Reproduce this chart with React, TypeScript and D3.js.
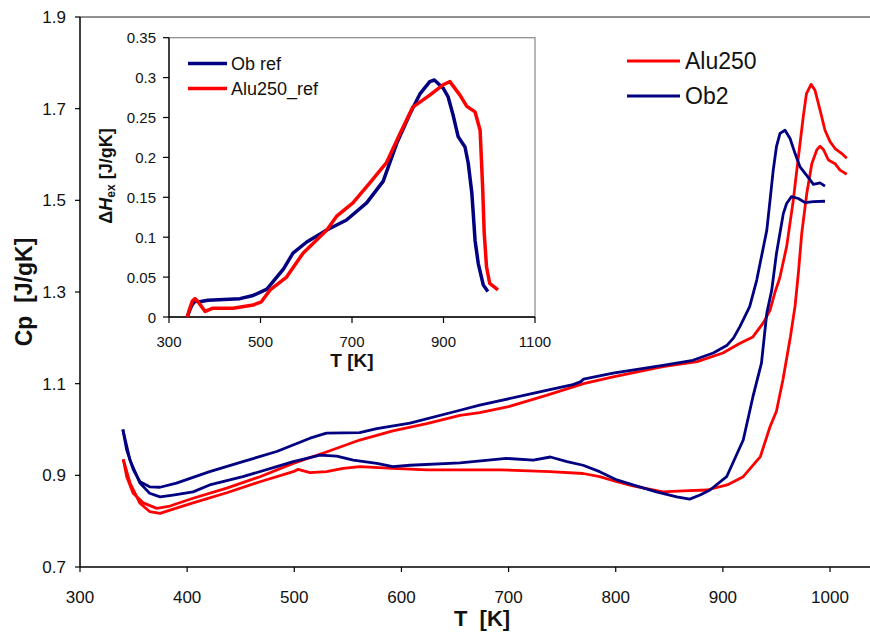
import React from 'react';
import * as d3 from 'd3';

type Pt = [number, number];

const mainXTicks = [300, 400, 500, 600, 700, 800, 900, 1000];
const mainYTicks = [0.7, 0.9, 1.1, 1.3, 1.5, 1.7, 1.9];
const insetXTicks = [300, 500, 700, 900, 1100];
const insetYTicks = [0, 0.05, 0.1, 0.15, 0.2, 0.25, 0.3, 0.35];

const mainLegend = ['Alu250', 'Ob2'];
const insetLegend = ['Ob ref', 'Alu250_ref'];

// Alu250 run with higher baseline (big peak)
const alu250A: Pt[] = [
  [340.4, 0.935], [343.6, 0.897], [349.6, 0.861], [359, 0.84], [371.6, 0.828], [384, 0.833],
  [405.5, 0.85], [437, 0.872], [468, 0.897], [499, 0.926], [530, 0.951], [561, 0.977],
  [592, 0.997], [623.6, 1.013], [654.7, 1.031], [673, 1.037], [700, 1.05], [736, 1.075],
  [770, 1.1], [797.5, 1.115], [844, 1.137], [876, 1.148], [900, 1.167], [916, 1.188],
  [928, 1.202], [937.5, 1.232], [944, 1.26], [948.7, 1.3], [953, 1.33], [959.5, 1.399],
  [965.7, 1.5], [969, 1.566], [972, 1.624], [975, 1.682], [978, 1.733], [982.3, 1.753],
  [986, 1.74], [990.7, 1.697], [995.3, 1.653], [1000, 1.628], [1004.7, 1.613], [1011, 1.602],
  [1015.6, 1.592],
];

// Alu250 run with lower baseline
const alu250B: Pt[] = [
  [340.4, 0.935], [346.7, 0.883], [356, 0.839], [365, 0.821], [374.7, 0.817], [384, 0.824],
  [405.5, 0.84], [437, 0.862], [468, 0.886], [499, 0.908], [503.5, 0.913], [514.7, 0.906],
  [530, 0.908], [545.6, 0.915], [561, 0.919], [592, 0.915], [623.6, 0.912], [654.7, 0.912],
  [692, 0.912], [738.7, 0.908], [769.5, 0.904], [785, 0.897], [801, 0.886], [816, 0.877],
  [844, 0.864], [863, 0.866], [885, 0.868], [904, 0.879], [919, 0.897], [935, 0.941],
  [944, 1.006], [950, 1.04], [956, 1.108], [963, 1.202], [967.4, 1.27], [970.4, 1.34],
  [973.6, 1.428], [978.3, 1.515], [983, 1.58], [987.6, 1.61], [990.7, 1.618], [993.8, 1.611],
  [998.5, 1.588], [1004.7, 1.58], [1009.3, 1.566], [1015.6, 1.557],
];

// Ob2 run with higher baseline
const ob2A: Pt[] = [
  [340, 1.0], [343.6, 0.955], [349.8, 0.912], [356, 0.886], [365, 0.875], [374.7, 0.874],
  [390, 0.883], [421, 0.908], [452, 0.93], [483.6, 0.952], [514.7, 0.981], [530, 0.992],
  [561, 0.993], [577, 1.002], [608, 1.014], [654.7, 1.042], [673, 1.053], [729, 1.082],
  [760, 1.098], [767, 1.104], [770, 1.11], [797.5, 1.123], [844, 1.14], [872, 1.151],
  [891, 1.167], [904, 1.184], [910, 1.2], [916, 1.225], [925, 1.268], [931.6, 1.326],
  [934.7, 1.362], [941, 1.435], [944, 1.5], [947, 1.566], [950, 1.617], [953.3, 1.646],
  [958, 1.653], [962.7, 1.635], [967.4, 1.602], [972, 1.573], [978, 1.555], [984.5, 1.535],
  [990.7, 1.538], [995.3, 1.531],
];

// Ob2 run with lower baseline
const ob2B: Pt[] = [
  [340, 1.0], [346.7, 0.933], [356, 0.883], [365, 0.861], [374.7, 0.853], [386.8, 0.857],
  [405.5, 0.864], [421, 0.879], [452, 0.897], [483.6, 0.919], [499, 0.93], [524, 0.944],
  [539.6, 0.942], [555, 0.933], [577, 0.926], [592, 0.919], [608, 0.922], [654.7, 0.927],
  [698, 0.937], [723, 0.933], [739, 0.94], [754.5, 0.93], [769.5, 0.922], [785, 0.908],
  [801, 0.89], [816, 0.879], [838, 0.864], [857, 0.853], [869, 0.848], [878.7, 0.857],
  [888, 0.868], [903.5, 0.897], [919, 0.977], [928, 1.071], [936, 1.145], [941, 1.254],
  [945.6, 1.304], [950, 1.384], [956.4, 1.471], [959.5, 1.493], [964, 1.508], [970.4, 1.504],
  [976.7, 1.495], [984.5, 1.497], [995.3, 1.498],
];

// Inset: excess enthalpy
const obRef: Pt[] = [
  [340, 0], [345, 0.008], [350, 0.015], [357, 0.02], [367, 0.019], [385, 0.021], [420, 0.022],
  [455, 0.023], [484, 0.027], [514, 0.035], [527, 0.044], [550, 0.06], [571, 0.08],
  [601, 0.094], [645, 0.109], [688, 0.1215], [732, 0.143], [768, 0.17], [798, 0.218],
  [827, 0.255], [849, 0.28], [870, 0.295], [880, 0.297], [899, 0.287], [910, 0.276],
  [921, 0.253], [932, 0.226], [947, 0.213], [954, 0.193], [962, 0.155], [969, 0.096],
  [976, 0.067], [987, 0.04], [997, 0.032],
];

const alu250Ref: Pt[] = [
  [340, 0], [345, 0.01], [351, 0.02], [357, 0.023], [365, 0.018], [379, 0.007], [396, 0.011],
  [440, 0.011], [484, 0.015], [502, 0.019], [521, 0.034], [557, 0.05], [593, 0.08],
  [645, 0.109], [666, 0.126], [702, 0.143], [739, 0.168], [775, 0.193], [805, 0.23],
  [833, 0.263], [870, 0.278], [899, 0.291], [914, 0.295], [936, 0.278], [951, 0.264],
  [969, 0.257], [980, 0.234], [985.5, 0.163], [989, 0.105], [994, 0.063], [1001, 0.042],
  [1019, 0.034],
];

const RED = '#FF0000';
const BLUE = '#000080';
const FONT = 'Liberation Sans, Arial, sans-serif';

export default function App() {
  // main axes
  const x = d3.scaleLinear().domain([300, 1050]).range([80, 883.6]);
  const y = d3.scaleLinear().domain([0.7, 1.9]).range([567, 17]);
  // inset axes
  const ix = d3.scaleLinear().domain([300, 1100]).range([169, 535]);
  const iy = d3.scaleLinear().domain([0, 0.35]).range([317, 37.7]);

  const line = d3.line<Pt>().x(d => x(d[0])).y(d => y(d[1]));
  const iline = d3.line<Pt>().x(d => ix(d[0])).y(d => iy(d[1]));

  const fmt = (v: number) => String(+v.toFixed(2));

  return (
    <svg width={870} height={634} style={{ position: 'absolute', left: 0, top: 0, background: '#fff' }} fontFamily={FONT}>
      <rect x={0} y={0} width={870} height={634} fill="#fff" />
      {/* main frame */}
      <line x1={80} x2={870} y1={17} y2={17} stroke="#222" strokeWidth={1.2} />
      <line x1={80} x2={80} y1={17} y2={567} stroke="#000" strokeWidth={1.5} />
      <line x1={80} x2={870} y1={567} y2={567} stroke="#000" strokeWidth={1.5} />
      {mainYTicks.map(t => (
        <g key={'my' + t}>
          <line x1={75} x2={80} y1={y(t)} y2={y(t)} stroke="#000" strokeWidth={1.2} />
          <text x={66} y={y(t) + 6} textAnchor="end" fontSize={17} fill="#111">{fmt(t)}</text>
        </g>
      ))}
      {mainXTicks.map(t => (
        <g key={'mx' + t}>
          <line x1={x(t)} x2={x(t)} y1={567} y2={572} stroke="#000" strokeWidth={1.2} />
          <text x={x(t)} y={603} textAnchor="middle" fontSize={17} fill="#111">{t}</text>
        </g>
      ))}
      <text x={482} y={626} textAnchor="middle" fontSize={22} fontWeight="bold" fill="#111" style={{ whiteSpace: 'pre' }}>{'T  [K]'}</text>
      <text transform="translate(32,292) rotate(-90)" textAnchor="middle" fontSize={23} fontWeight="bold" fill="#111" style={{ whiteSpace: 'pre' }}>{'Cp  [J/gK]'}</text>

      {/* main curves */}
      <path d={line(alu250A) || ''} fill="none" stroke={RED} strokeWidth={2.8} strokeLinejoin="round" />
      <path d={line(alu250B) || ''} fill="none" stroke={RED} strokeWidth={2.8} strokeLinejoin="round" />
      <path d={line(ob2A) || ''} fill="none" stroke={BLUE} strokeWidth={2.8} strokeLinejoin="round" />
      <path d={line(ob2B) || ''} fill="none" stroke={BLUE} strokeWidth={2.8} strokeLinejoin="round" />

      {/* main legend */}
      <line x1={627} x2={680} y1={61} y2={61} stroke={RED} strokeWidth={3} />
      <text x={685} y={69} fontSize={23} fill="#111">{mainLegend[0]}</text>
      <line x1={627} x2={680} y1={96} y2={96} stroke={BLUE} strokeWidth={3} />
      <text x={685} y={104} fontSize={23} fill="#111">{mainLegend[1]}</text>

      {/* inset */}
      <rect x={169} y={37.7} width={366} height={279.3} fill="#fff" stroke="#888" strokeWidth={1.2} />
      <line x1={169} x2={169} y1={37.7} y2={317} stroke="#000" strokeWidth={1.3} />
      <line x1={169} x2={535} y1={317} y2={317} stroke="#000" strokeWidth={1.3} />
      {insetYTicks.map(t => (
        <g key={'iy' + t}>
          <line x1={163} x2={169} y1={iy(t)} y2={iy(t)} stroke="#000" strokeWidth={1.2} />
          <text x={156} y={iy(t) + 5.5} textAnchor="end" fontSize={15} fill="#111">{fmt(t)}</text>
        </g>
      ))}
      {insetXTicks.map(t => (
        <g key={'ix' + t}>
          <line x1={ix(t)} x2={ix(t)} y1={317} y2={323} stroke="#000" strokeWidth={1.2} />
          <text x={ix(t)} y={347} textAnchor="middle" fontSize={15} fill="#111">{t}</text>
        </g>
      ))}
      <text x={352} y={367} textAnchor="middle" fontSize={19} fontWeight="bold" fill="#111">T [K]</text>
      <text transform="translate(112,176) rotate(-90)" textAnchor="middle" fontSize={18} fontWeight="bold" fill="#111">
        <tspan>Δ</tspan>
        <tspan fontStyle="italic">H</tspan>
        <tspan fontSize={12} dy={3}>ex</tspan>
        <tspan dy={-3}>{' [J/gK]'}</tspan>
      </text>

      <path d={iline(obRef) || ''} fill="none" stroke={BLUE} strokeWidth={3.5} strokeLinejoin="round" />
      <path d={iline(alu250Ref) || ''} fill="none" stroke={RED} strokeWidth={3.5} strokeLinejoin="round" />

      <line x1={188} x2={227} y1={63.5} y2={63.5} stroke={BLUE} strokeWidth={3.5} />
      <text x={231} y={70} fontSize={18} fill="#111">{insetLegend[0]}</text>
      <line x1={188} x2={227} y1={88.5} y2={88.5} stroke={RED} strokeWidth={3.5} />
      <text x={231} y={95} fontSize={18} fill="#111">{insetLegend[1]}</text>
    </svg>
  );
}
